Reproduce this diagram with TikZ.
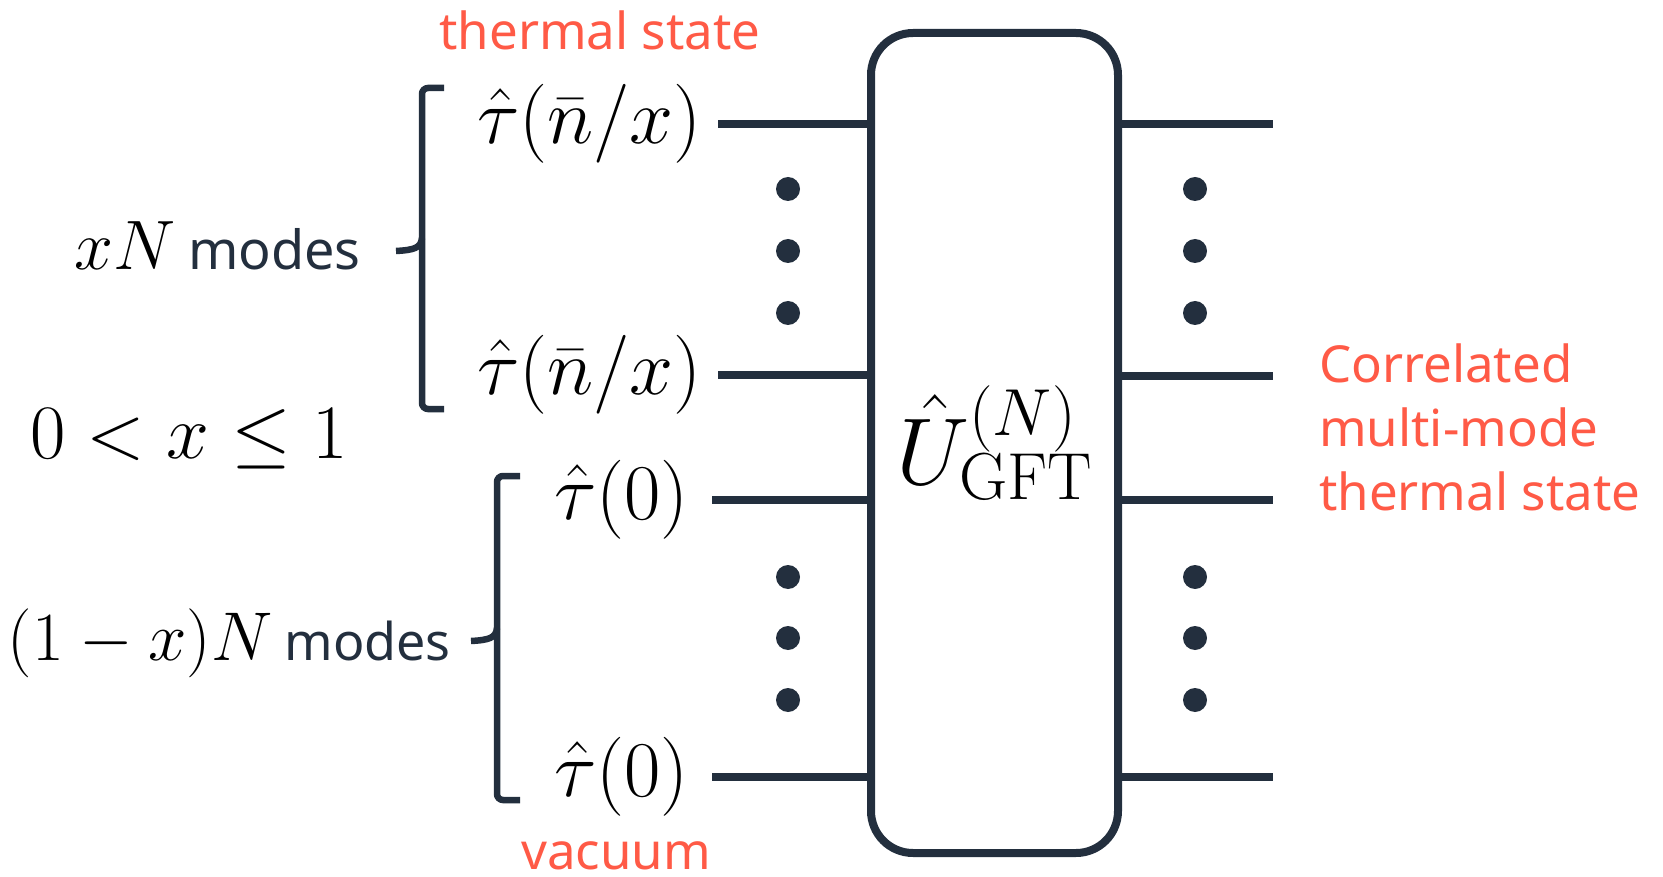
\RequirePackage{fix-cm}
\documentclass[tikz,border=0pt]{standalone}
\usepackage{fontspec}
\newfontfamily\labelfont{Noto Sans}
\definecolor{ink}{RGB}{35,47,62}
\definecolor{hot}{RGB}{255,90,70}
\tikzset{
  wire/.style={draw=ink, line width=8pt},
  brace/.style={draw=ink, line width=6.5pt, rounded corners=6pt},
  state/.style={inner sep=0pt, font=\fontsize{79}{95}\selectfont},
  note/.style={inner sep=0pt, text=hot, font=\labelfont\fontsize{51}{64}\selectfont},
  gate/.style={draw=ink, line width=8pt, rounded corners=42pt, minimum width=247pt,
    minimum height=820pt, inner sep=0pt, font=\fontsize{95}{114}\selectfont},
}
\begin{document}
\begin{tikzpicture}[x=1pt, y=-1pt]
  \useasboundingbox (0,0) rectangle (1663,877);
  % the unitary
  \node[gate] (gft) at (994.5,443) {$\hat{U}^{(N)}_{\mathrm{GFT}}$};
  % input modes
  \node[state, anchor=east] (th1) at (702,124) {$\hat\tau(\bar n/x)$};
  \node[state, anchor=east] (th2) at (702,375) {$\hat\tau(\bar n/x)$};
  \node[state, anchor=east] (vac1) at (689,500) {$\hat\tau(0)$};
  \node[state, anchor=east] (vac2) at (689,777) {$\hat\tau(0)$};
  \draw[wire] ([xshift=16pt]th1.east) -- (th1.east -| gft.west);
  \draw[wire] ([xshift=16pt]th2.east) -- (th2.east -| gft.west);
  \draw[wire] ([xshift=23pt]vac1.east) -- (vac1.east -| gft.west);
  \draw[wire] ([xshift=23pt]vac2.east) -- (vac2.east -| gft.west);
  % output modes
  \coordinate (o1) at (1273,124);
  \coordinate (o2) at (1273,376);
  \coordinate (o3) at (1273,500);
  \coordinate (o4) at (1273,777);
  \foreach \o in {o1,o2,o3,o4}
    \draw[wire] (gft.east |- \o) -- (\o);
  % dots
  \foreach \y in {189,251,313,577,638,700} {
    \fill[ink] (788,\y) circle (12pt);
    \fill[ink] (1195,\y) circle (12pt);
  }
  % braces
  \draw[brace] (444,88) -- (422,88) -- (422,409) -- (444,409);
  \draw[brace] (396,251) .. controls (414,250) and (421,248) .. (422,238);
  \draw[brace] (520,476) -- (497,476) -- (497,800) -- (520,800);
  \draw[brace] (471,641) .. controls (489,640) and (496,638) .. (497,628);
  % counts
  \node[inner sep=0pt, anchor=base east] (upper) at (361,270)
    {{\fontsize{70}{84}\selectfont$xN$}\hspace{12pt}{\labelfont\fontsize{54}{64}\selectfont\color{ink}modes}};
  \node[inner sep=0pt, anchor=base west, font=\fontsize{77}{92}\selectfont] (range) at (30,458)
    {$0<x\leq 1$};
  \node[inner sep=0pt, anchor=base east] (lower) at (451,660)
    {{\fontsize{69}{82}\selectfont$(1-x)N$}\hspace{12pt}{\labelfont\fontsize{52}{62}\selectfont\color{ink}modes}};
  % red labels
  \node[note, anchor=base] (therm) at (600,50) {thermal state};
  \node[note, anchor=base] (vacuum) at (616,869) {vacuum};
  \node[note, anchor=west, align=left] (corr) at (1319,427) {Correlated\\multi-mode\\thermal state};
\end{tikzpicture}
\end{document}
